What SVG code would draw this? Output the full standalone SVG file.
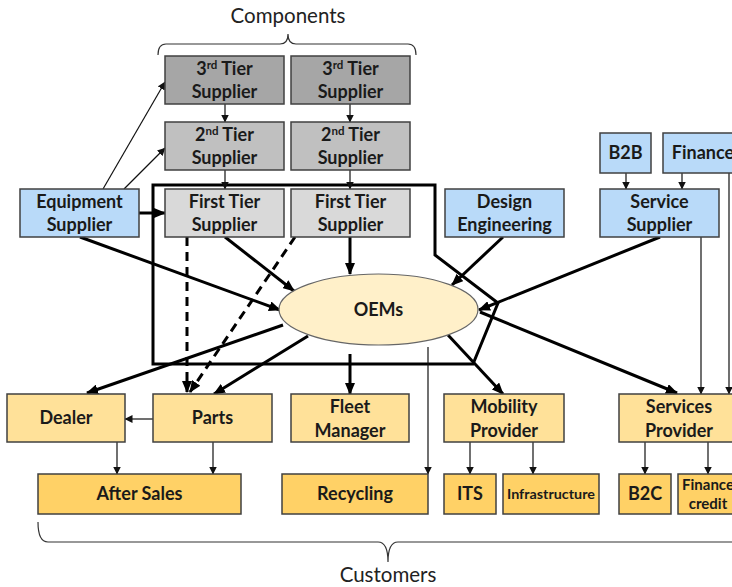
<svg xmlns="http://www.w3.org/2000/svg" width="732" height="587" viewBox="0 0 732 587">
<style>
text{font-family:Lato,"Liberation Sans",sans-serif;text-anchor:middle;fill:#1a1a1a}
.b{font-weight:bold;font-size:18px}
.lbl{font-size:20.5px;fill:#222}
.box{stroke:#404040;stroke-width:1.5}
.t3{fill:#A6A6A6}.t2{fill:#C0C0C0}.t1{fill:#D9D9D9}
.blue{fill:#B9DAF9}.lo{fill:#FFE199}.do{fill:#FFD166}
.thin{stroke:#111;stroke-width:1.2;fill:none}
.thick{stroke:#000;stroke-width:3;fill:none}
.dash{stroke-dasharray:9,6}
.sup{font-size:11.5px}
</style>
<defs>
<marker id="ah" viewBox="0 0 12 10" refX="11" refY="5" markerWidth="12" markerHeight="10" markerUnits="userSpaceOnUse" orient="auto"><path d="M0,0 L12,5 L0,10 z" fill="#000"/></marker>
<marker id="as" viewBox="0 0 8 8" refX="7.5" refY="4" markerWidth="8" markerHeight="8" markerUnits="userSpaceOnUse" orient="auto"><path d="M0,0 L8,4 L0,8 z" fill="#111"/></marker>
</defs>

<g id="braces" fill="none" stroke="#333" stroke-width="1.2">
<path d="M158,55 Q158,44 166,44 H280 Q288,44 288,34 Q288,44 296,44 H408 Q416,44 416,55"/>
<path d="M38,522 Q38,542 48,542 H378 Q388,542 388,562 Q388,542 398,542 H740"/>
</g>
<text class="lbl" x="288" y="23">Components</text>
<text class="lbl" x="388" y="582">Customers</text>

<g id="boundary"><path class="thick" d="M153,185 H435 V255 L498,303 L473,364 H153 Z"/></g>

<g id="connectors">
<path class="thin" marker-end="url(#as)" d="M225,104 V122"/>
<path class="thin" marker-end="url(#as)" d="M350,104 V122"/>
<path class="thin" marker-end="url(#as)" d="M225,170 V189"/>
<path class="thin" marker-end="url(#as)" d="M350,170 V189"/>
<path class="thin" marker-end="url(#as)" d="M103,189 L165,82"/>
<path class="thin" marker-end="url(#as)" d="M124,189 L165,148"/>
<path class="thin" marker-end="url(#as)" d="M626,173 V189"/>
<path class="thin" marker-end="url(#as)" d="M682,173 V189"/>
<path class="thin" marker-end="url(#as)" d="M729,173 V394"/>
<path class="thin" marker-end="url(#as)" d="M701,237 V394"/>
<path class="thin" marker-end="url(#as)" d="M153,419 H125"/>
<path class="thin" marker-end="url(#as)" d="M117,442 V474"/>
<path class="thin" marker-end="url(#as)" d="M213,442 V474"/>
<path class="thin" marker-end="url(#as)" d="M428,347 V474"/>
<path class="thin" marker-end="url(#as)" d="M470,442 V474"/>
<path class="thin" marker-end="url(#as)" d="M533,442 V474"/>
<path class="thin" marker-end="url(#as)" d="M645,442 V474"/>
<path class="thin" marker-end="url(#as)" d="M708,442 V474"/>
<path class="thick" marker-end="url(#ah)" d="M139,213 H165"/>
<path class="thick" marker-end="url(#ah)" d="M80,237 L280,310"/>
<path class="thick" marker-end="url(#ah)" d="M225,237 L294,291"/>
<path class="thick" marker-end="url(#ah)" d="M350,237 V274"/>
<path class="thick" marker-end="url(#ah)" d="M503,237 L452,285"/>
<path class="thick" marker-end="url(#ah)" d="M660,237 L479,310"/>
<path class="thick" marker-end="url(#ah)" d="M283,325 L87,393"/>
<path class="thick" marker-end="url(#ah)" d="M308,336 L214,394"/>
<path class="thick" marker-end="url(#ah)" d="M350,354 V394"/>
<path class="thick" marker-end="url(#ah)" d="M448,335 L503,394"/>
<path class="thick" marker-end="url(#ah)" d="M480,312 L677,393"/>
<path class="thick dash" marker-end="url(#ah)" d="M187,237 V392"/>
<path class="thick dash" marker-end="url(#ah)" d="M295,237 L190,392"/>
</g>

<g id="t3a"><rect class="box t3" x="165" y="56" width="119" height="48"/><text class="b" x="224.5" y="75">3<tspan class="sup" dy="-6">rd</tspan><tspan dy="6"> Tier</tspan></text><text class="b" x="224.5" y="98">Supplier</text></g>
<g id="t3b"><rect class="box t3" x="291" y="56" width="119" height="48"/><text class="b" x="350.5" y="75">3<tspan class="sup" dy="-6">rd</tspan><tspan dy="6"> Tier</tspan></text><text class="b" x="350.5" y="98">Supplier</text></g>
<g id="t2a"><rect class="box t2" x="165" y="122" width="119" height="48"/><text class="b" x="224.5" y="141">2<tspan class="sup" dy="-6">nd</tspan><tspan dy="6"> Tier</tspan></text><text class="b" x="224.5" y="164">Supplier</text></g>
<g id="t2b"><rect class="box t2" x="291" y="122" width="119" height="48"/><text class="b" x="350.5" y="141">2<tspan class="sup" dy="-6">nd</tspan><tspan dy="6"> Tier</tspan></text><text class="b" x="350.5" y="164">Supplier</text></g>
<g id="t1a"><rect class="box t1" x="165" y="189" width="119" height="48"/><text class="b" x="224.5" y="208">First Tier</text><text class="b" x="224.5" y="231">Supplier</text></g>
<g id="t1b"><rect class="box t1" x="291" y="189" width="119" height="48"/><text class="b" x="350.5" y="208">First Tier</text><text class="b" x="350.5" y="231">Supplier</text></g>
<g id="equip"><rect class="box blue" x="20" y="189" width="119" height="48"/><text class="b" x="79.5" y="208">Equipment</text><text class="b" x="79.5" y="231">Supplier</text></g>
<g id="design"><rect class="box blue" x="445" y="189" width="119" height="48"/><text class="b" x="504.5" y="208">Design</text><text class="b" x="504.5" y="231">Engineering</text></g>
<g id="service"><rect class="box blue" x="600" y="189" width="119" height="48"/><text class="b" x="659.5" y="208">Service</text><text class="b" x="659.5" y="231">Supplier</text></g>
<g id="b2b"><rect class="box blue" x="600" y="133" width="51" height="40"/><text class="b" x="625.5" y="159">B2B</text></g>
<g id="finance"><rect class="box blue" x="663" y="133" width="80" height="40"/><text class="b" x="703" y="159">Finance</text></g>
<g id="oems"><ellipse cx="378.5" cy="309.5" rx="99.5" ry="35.5" fill="#FFF0C9" stroke="#666" stroke-width="1.2"/><text class="b" x="378.5" y="316">OEMs</text></g>
<g id="dealer"><rect class="box lo" x="7" y="394" width="118" height="48"/><text class="b" x="66" y="424">Dealer</text></g>
<g id="parts"><rect class="box lo" x="153" y="394" width="119" height="48"/><text class="b" x="212.5" y="424">Parts</text></g>
<g id="fleet"><rect class="box lo" x="291" y="394" width="118" height="48"/><text class="b" x="350" y="413">Fleet</text><text class="b" x="350" y="437">Manager</text></g>
<g id="mobility"><rect class="box lo" x="444" y="394" width="120" height="48"/><text class="b" x="504" y="413">Mobility</text><text class="b" x="504" y="437">Provider</text></g>
<g id="servprov"><rect class="box lo" x="619" y="394" width="120" height="48"/><text class="b" x="679" y="413">Services</text><text class="b" x="679" y="437">Provider</text></g>
<g id="aftersales"><rect class="box do" x="38" y="474" width="203" height="40"/><text class="b" x="139.5" y="500">After Sales</text></g>
<g id="recycling"><rect class="box do" x="282" y="474" width="146" height="40"/><text class="b" x="355" y="500">Recycling</text></g>
<g id="its"><rect class="box do" x="444" y="474" width="52" height="40"/><text class="b" x="470" y="500">ITS</text></g>
<g id="infra"><rect class="box do" x="503" y="474" width="96" height="40"/><text class="b" x="551" y="499" style="font-size:13.5px" textLength="88" lengthAdjust="spacingAndGlyphs">Infrastructure</text></g>
<g id="b2c"><rect class="box do" x="619" y="474" width="52" height="40"/><text class="b" x="645" y="500">B2C</text></g>
<g id="fincredit"><rect class="box do" x="678" y="474" width="60" height="40"/><text class="b" x="708" y="490" style="font-size:15px">Finance</text><text class="b" x="708" y="509" style="font-size:15px">credit</text></g>
</svg>
